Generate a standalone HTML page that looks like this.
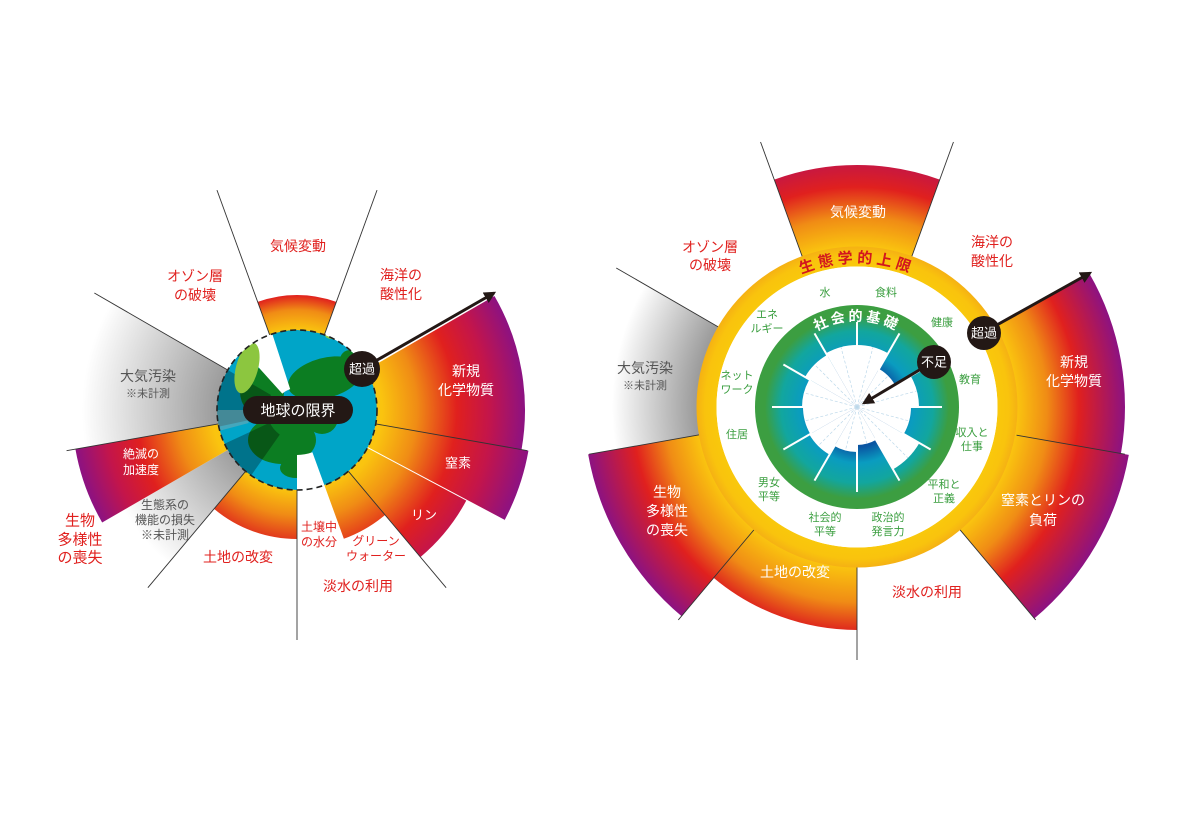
<!DOCTYPE html>
<html><head><meta charset="utf-8">
<style>
html,body{margin:0;padding:0;background:#fff;}
svg{display:block;}
text{font-family:"Liberation Sans","Noto Sans CJK JP",sans-serif;}
</style></head>
<body>
<svg id="s" width="1180" height="834" viewBox="0 0 1180 834" xmlns="http://www.w3.org/2000/svg">
<defs>
<marker id="ah" viewBox="0 0 10 10" refX="8" refY="5" markerWidth="4" markerHeight="4" orient="auto"><path d="M0,0 L10,5 L0,10 Z" fill="#231815"/></marker>
<clipPath id="gc"><circle cx="297" cy="410" r="80"/></clipPath>
<path id="arcTop" d="M 767.1 293.8 A 146 146 0 0 1 946.9 293.8" fill="none"/>
<path id="arcSoc" d="M 807.7 336.6 A 86 86 0 0 1 906.3 336.6" fill="none"/>
</defs>
<g id="bg"></g>
<!-- globe -->
<g clip-path="url(#gc)">
<circle cx="297" cy="410" r="80" fill="#00a5c8"/>
<ellipse cx="325" cy="378" rx="38" ry="20" fill="#0c7d22" transform="rotate(-15 325 378)"/>
<ellipse cx="282" cy="440" rx="34" ry="24" fill="#0c7d22"/>
<ellipse cx="262" cy="392" rx="22" ry="24" fill="#0c7d22"/>
<ellipse cx="322" cy="418" rx="16" ry="16" fill="#0c7d22"/>
<ellipse cx="296" cy="468" rx="16" ry="10" fill="#0c7d22"/>
<ellipse cx="350" cy="360" rx="10" ry="10" fill="#0c7d22"/>
<g id="globeW"></g>
<ellipse cx="247" cy="368" rx="11" ry="26" fill="#8cc63f" transform="rotate(15 247 368)"/>
<ellipse cx="332" cy="335" rx="7" ry="4" fill="#8cc63f"/>
</g>
<circle cx="297" cy="410" r="80" fill="none" stroke="#222" stroke-width="1.6" stroke-dasharray="6 4"/>
<g id="fg"></g>

<rect x="243" y="396" width="110" height="28" rx="14" fill="#231815"/>
<text x="298" y="411" font-size="15" fill="#fff" text-anchor="middle" dominant-baseline="central">地球の限界</text>
<line x1="372" y1="363" x2="494" y2="293" stroke="#231815" stroke-width="3" marker-end="url(#ah)"/>
<circle cx="362" cy="369" r="18" fill="#231815"/>
<text x="362" y="369" font-size="13" fill="#fff" text-anchor="middle" dominant-baseline="central">超過</text>

<g id="rose"></g>
<text font-size="15" font-weight="bold" fill="#d2161e" letter-spacing="4"><textPath href="#arcTop" startOffset="50%" text-anchor="middle">生態学的上限</textPath></text>
<text font-size="14" font-weight="bold" fill="#fff" letter-spacing="3"><textPath href="#arcSoc" startOffset="50%" text-anchor="middle">社会的基礎</textPath></text>

<line x1="921" y1="369" x2="864" y2="403" stroke="#231815" stroke-width="3" marker-end="url(#ah)"/>
<circle cx="934" cy="362" r="17" fill="#231815"/>
<text x="934" y="362" font-size="13" fill="#fff" text-anchor="middle" dominant-baseline="central">不足</text>
<line x1="995" y1="326" x2="1090" y2="273" stroke="#231815" stroke-width="3" marker-end="url(#ah)"/>
<circle cx="984" cy="333" r="17" fill="#231815"/>
<text x="984" y="333" font-size="13" fill="#fff" text-anchor="middle" dominant-baseline="central">超過</text>

<g text-anchor="middle" dominant-baseline="central">
<text x="298" y="246" font-size="14" fill="#e0201e">気候変動</text>
<text x="195" y="276" font-size="14" fill="#e0201e">オゾン層</text>
<text x="195" y="295" font-size="14" fill="#e0201e">の破壊</text>
<text x="401" y="275" font-size="14" fill="#e0201e">海洋の</text>
<text x="401" y="294" font-size="14" fill="#e0201e">酸性化</text>
<text x="148" y="376" font-size="14" fill="#555">大気汚染</text>
<text x="148" y="394" font-size="11" fill="#555">※未計測</text>
<text x="466" y="371" font-size="14" fill="#fff">新規</text>
<text x="466" y="390" font-size="14" fill="#fff">化学物質</text>
<text x="458" y="463" font-size="13" fill="#fff">窒素</text>
<text x="424" y="515" font-size="13" fill="#fff">リン</text>
<text x="141" y="454" font-size="12" fill="#fff">絶滅の</text>
<text x="141" y="470" font-size="12" fill="#fff">加速度</text>
<text x="165" y="505" font-size="12" fill="#555">生態系の</text>
<text x="165" y="520" font-size="12" fill="#555">機能の損失</text>
<text x="165" y="535" font-size="12" fill="#555">※未計測</text>
<text x="80" y="521" font-size="15" fill="#e0201e">生物</text>
<text x="80" y="540" font-size="15" fill="#e0201e">多様性</text>
<text x="80" y="558" font-size="15" fill="#e0201e">の喪失</text>
<text x="238" y="557" font-size="14" fill="#e0201e">土地の改変</text>
<text x="319" y="527" font-size="12" fill="#e0201e">土壌中</text>
<text x="319" y="542" font-size="12" fill="#e0201e">の水分</text>
<text x="376" y="541" font-size="12" fill="#e0201e">グリーン</text>
<text x="376" y="556" font-size="12" fill="#e0201e">ウォーター</text>
<text x="358" y="586" font-size="14" fill="#e0201e">淡水の利用</text>
</g>

<g text-anchor="middle" dominant-baseline="central">
<text x="858" y="212" font-size="14" fill="#fff">気候変動</text>
<text x="710" y="247" font-size="14" fill="#e0201e">オゾン層</text>
<text x="710" y="265" font-size="14" fill="#e0201e">の破壊</text>
<text x="992" y="242" font-size="14" fill="#e0201e">海洋の</text>
<text x="992" y="261" font-size="14" fill="#e0201e">酸性化</text>
<text x="645" y="368" font-size="14" fill="#555">大気汚染</text>
<text x="645" y="386" font-size="11" fill="#555">※未計測</text>
<text x="1074" y="362" font-size="14" fill="#fff">新規</text>
<text x="1074" y="381" font-size="14" fill="#fff">化学物質</text>
<text x="1043" y="500" font-size="14" fill="#fff">窒素とリンの</text>
<text x="1043" y="520" font-size="14" fill="#fff">負荷</text>
<text x="927" y="592" font-size="14" fill="#e0201e">淡水の利用</text>
<text x="795" y="572" font-size="14" fill="#fff">土地の改変</text>
<text x="667" y="492" font-size="14" fill="#fff">生物</text>
<text x="667" y="511" font-size="14" fill="#fff">多様性</text>
<text x="667" y="530" font-size="14" fill="#fff">の喪失</text>
</g>
<g text-anchor="middle" dominant-baseline="central" font-size="11" fill="#3a9e3f">
<text x="825" y="293">水</text>
<text x="886" y="293">食料</text>
<text x="767" y="315">エネ</text>
<text x="767" y="329">ルギー</text>
<text x="942" y="323">健康</text>
<text x="737" y="376">ネット</text>
<text x="737" y="390">ワーク</text>
<text x="970" y="380">教育</text>
<text x="737" y="435">住居</text>
<text x="972" y="433">収入と</text>
<text x="972" y="447">仕事</text>
<text x="769" y="483">男女</text>
<text x="769" y="497">平等</text>
<text x="944" y="485">平和と</text>
<text x="944" y="499">正義</text>
<text x="825" y="518">社会的</text>
<text x="825" y="532">平等</text>
<text x="888" y="518">政治的</text>
<text x="888" y="532">発言力</text>
</g>
</svg>
<script>
(function(){
var NS="http://www.w3.org/2000/svg",svg=document.getElementById('s'),defs=svg.querySelector('defs');
var bg=document.getElementById('bg'),fg=document.getElementById('fg'),gw=document.getElementById('globeW'),rose=document.getElementById('rose');
function P(cx,cy,r,a){a=a*Math.PI/180;return [cx+r*Math.sin(a),cy-r*Math.cos(a)];}
function sec(cx,cy,r0,r1,a0,a1){var l=(a1-a0)>180?1:0,p1=P(cx,cy,r1,a0),p2=P(cx,cy,r1,a1);
 var d='M'+p1+' A'+r1+' '+r1+' 0 '+l+' 1 '+p2;
 if(r0>0){var p3=P(cx,cy,r0,a1),p4=P(cx,cy,r0,a0);d+=' L'+p3+' A'+r0+' '+r0+' 0 '+l+' 0 '+p4+' Z';}
 else d+=' L'+cx+','+cy+' Z';return d;}
var gid=0;
function grad(cx,cy,stops){var R=stops[stops.length-1][0],g=document.createElementNS(NS,'radialGradient');
 var id='g'+(gid++);g.setAttribute('id',id);g.setAttribute('gradientUnits','userSpaceOnUse');
 g.setAttribute('cx',cx);g.setAttribute('cy',cy);g.setAttribute('r',R);
 stops.forEach(function(s){var e=document.createElementNS(NS,'stop');e.setAttribute('offset',s[0]/R);e.setAttribute('stop-color',s[1]);g.appendChild(e);});
 defs.appendChild(g);return 'url(#'+id+')';}
function path(par,d,fill,extra){var e=document.createElementNS(NS,'path');e.setAttribute('d',d);e.setAttribute('fill',fill);
 if(extra)for(var k in extra)e.setAttribute(k,extra[k]);par.appendChild(e);return e;}
function line(par,cx,cy,a,r0,r1,col,w){var p=P(cx,cy,r0,a),q=P(cx,cy,r1,a),e=document.createElementNS(NS,'line');
 e.setAttribute('x1',p[0]);e.setAttribute('y1',p[1]);e.setAttribute('x2',q[0]);e.setAttribute('y2',q[1]);
 e.setAttribute('stroke',col);e.setAttribute('stroke-width',w||0.9);par.appendChild(e);return e;}
var Y='#fac40f',O='#f08c15',R='#e0201e',C='#c4154a',PU='#8c1282';
var lx=297,ly=410;
function ls(r0,r1,a0,a1,st){path(bg,sec(lx,ly,r0,r1,a0,a1),grad(lx,ly,st));}
ls(78,115,340,380,[[80,Y],[100,O],[115,R]]);
ls(78,228,60,100,[[85,Y],[120,O],[160,R],[192,C],[228,PU]]);
ls(78,235,100,118,[[85,Y],[120,O],[160,R],[195,C],[235,PU]]);
ls(78,192,118,140,[[85,Y],[120,O],[160,R],[192,C]]);
ls(78,137,140,160,[[80,Y],[110,O],[137,'#e5421a']]);
ls(78,129,180,220,[[80,Y],[105,O],[129,'#e23a1c']]);
ls(78,200,220,240,[[80,'#a0a0a0'],[200,'#fff']]);
ls(78,225,240,260,[[85,Y],[120,O],[160,R],[192,C],[225,PU]]);
ls(78,234,260,300,[[80,'#9c9c9c'],[215,'#fff']]);
[[340,234],[20,234],[300,234],[260,234],[220,232],[180,230],[140,232],[100,234]].forEach(function(v){line(fg,lx,ly,v[0],80,v[1],'#333',0.9);});
line(bg,lx,ly,118,80,235,'#fff',1);
path(gw,sec(lx,ly,45,82,160,180),'#fff');
path(gw,sec(lx,ly,22,82,318,342),'#fff');
path(gw,sec(lx,ly,30,82,258,300),'#000',{opacity:0.3});
path(gw,sec(lx,ly,30,82,215,245),'#000',{opacity:0.3});
path(gw,sec(lx,ly,50,82,255,270),'#aaa',{opacity:0.4});
var rx=857,ry=407;
function rs(r0,r1,a0,a1,st){path(bg,sec(rx,ry,r0,r1,a0,a1),grad(rx,ry,st));}
rs(150,242,340,380,[[160,Y],[190,O],[220,R],[242,'#c81840']]);
rs(150,268,60,100,[[160,Y],[190,O],[222,R],[268,PU]]);
rs(150,276,100,140,[[160,Y],[192,O],[225,R],[276,PU]]);
rs(150,223,180,220,[[160,Y],[195,O],[223,'#df2a1d']]);
rs(150,273,220,260,[[160,Y],[192,O],[225,R],[273,PU]]);
rs(150,245,260,300,[[160,'#9a9a9a'],[245,'#fff']]);
[[340,160,282],[20,160,282],[300,160,278],[260,158,272],[220,155,278],[180,160,253],[140,160,278],[100,162,272]].forEach(function(v){line(fg,rx,ry,v[0],v[1],v[2],'#333',0.9);});
var c=document.createElementNS(NS,'circle');c.setAttribute('cx',rx);c.setAttribute('cy',ry);c.setAttribute('r',150.5);
c.setAttribute('fill','none');c.setAttribute('stroke',grad(rx,ry,[[141,'#f9c80c'],[152,'#f9c30d'],[161,'#f5b014']]));c.setAttribute('stroke-width',20);rose.appendChild(c);
c=document.createElementNS(NS,'circle');c.setAttribute('cx',rx);c.setAttribute('cy',ry);c.setAttribute('r',140.5);c.setAttribute('fill','#fff');rose.appendChild(c);
c=document.createElementNS(NS,'circle');c.setAttribute('cx',rx);c.setAttribute('cy',ry);c.setAttribute('r',102);c.setAttribute('fill','#3c9e41');rose.appendChild(c);
c=document.createElementNS(NS,'circle');c.setAttribute('cx',rx);c.setAttribute('cy',ry);c.setAttribute('r',92);
c.setAttribute('fill',grad(rx,ry,[[0,'#0b4d9a'],[40,'#0a55a2'],[56,'#0a9cc0'],[76,'#12a69e'],[92,'#3c9e41']]));rose.appendChild(c);
var pr=[62,44,62,54,72,38,45,55,54,55,60,62];
pr.forEach(function(r,i){path(rose,sec(rx,ry,0,r,i*30,i*30+30),'#fff');});
pr.forEach(function(r,i){var e=line(rose,rx,ry,i*30+15,0,r,'#bcd8ea',0.7);e.setAttribute('stroke-dasharray','3 2');});
for(var i=0;i<12;i++){line(rose,rx,ry,i*30,Math.min(pr[i],pr[(i+11)%12])-2,85,'#fff',2);}
})();
</script>
</body></html>
